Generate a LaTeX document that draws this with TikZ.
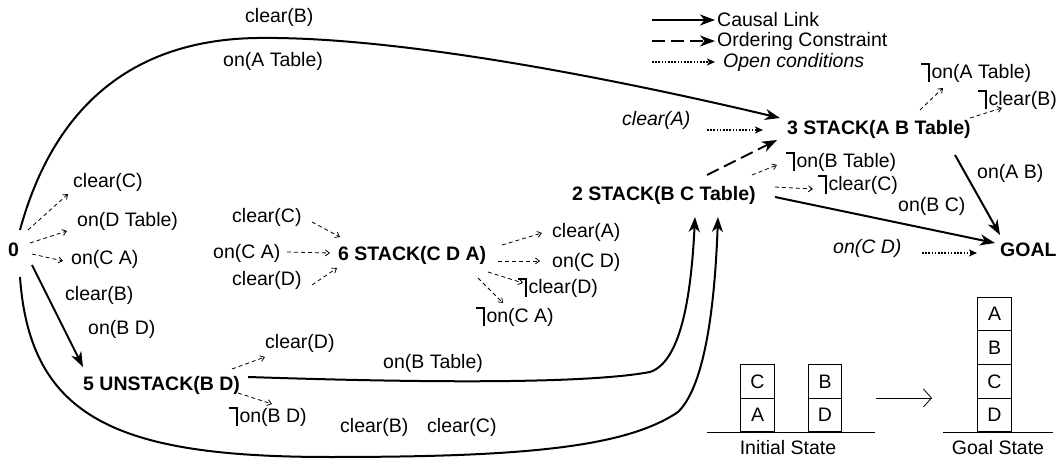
\documentclass[tikz,border=0pt]{standalone}
\usepackage{fontspec}
\setmainfont{Liberation Sans}
\usetikzlibrary{arrows.meta,calc}
\newcommand{\fsz}{\fontsize{19.5}{23}\selectfont}
\newcommand{\nsym}{\kern0.05em\rlap{\rule[0.72em]{0.42em}{0.06em}}\kern0.37em\rule[-0.15em]{0.06em}{0.93em}\kern0.1em}
\tikzset{
  lbl/.style={inner sep=0pt, anchor=west, font=\fsz},
  olbl/.style={inner sep=0pt, anchor=west, font=\fsz\itshape},
  act/.style={inner sep=0pt, anchor=west, font=\fsz\bfseries},
  causal/.style={line width=2pt, -{Stealth[length=15pt,width=11pt,inset=4.5pt]}},
  order/.style={line width=2pt, dash pattern=on 13pt off 6pt, -{Stealth[length=15pt,width=11pt,inset=4.5pt]}},
  thr/.style={line width=0.8pt, dash pattern=on 4pt off 3pt, -{Straight Barb[length=4pt,width=6pt]}},
  opencond/.style={line width=2pt, dash pattern=on 1.6pt off 1.6pt, -{Stealth[length=8pt,width=7pt,inset=2pt]}},
  blk/.style={draw, line width=0.8pt, minimum width=33.5pt, minimum height=33.5pt, inner sep=0pt, font=\fsz},
  ground/.style={line width=0.8pt},
}
\begin{document}
\begin{tikzpicture}[x=1pt,y=-1pt]
\useasboundingbox (0,0) rectangle (1060,462);

% action nodes
\node[act] (n0) at (8,250) {0};
\node[act] (n5) at (83,385) {5 UNSTACK(B D)};
\node[act] (n6) at (338,255) {6 STACK(C D A)};
\node[act] (n2) at (572,195) {2 STACK(B C Table)};
\node[act] (n3) at (787,129) {3 STACK(A B Table)};
\node[act] (g) at (1000,250) {GOAL};

% labels around 0
\node[lbl] (c1) at (73,182) {clear(C)};
\node[lbl] (c2) at (77,221) {on(D Table)};
\node[lbl] (c3) at (71,259) {on(C A)};
\node[lbl] (c4) at (65,295) {clear(B)};
\node[lbl] (c5) at (88,329) {on(B D)};
% labels around 5
\node[lbl] (c6) at (265,343) {clear(D)};
\node[lbl] (c7) at (228,417) {\nsym on(B D)};
\node[lbl] (c8) at (383,363) {on(B Table)};
\node[lbl] (c9) at (340,427) {clear(B)};
\node[lbl] (c10) at (427,427) {clear(C)};
% top labels
\node[lbl] (t1) at (245,17) {clear(B)};
\node[lbl] (t2) at (223,61) {on(A Table)};
% labels around 6
\node[lbl] (d1) at (232,217) {clear(C)};
\node[lbl] (d2) at (213,253) {on(C A)};
\node[lbl] (d3) at (232,280) {clear(D)};
\node[lbl] (e1) at (552,232) {clear(A)};
\node[lbl] (e2) at (552,262) {on(C D)};
\node[lbl] (e3) at (517,288) {\nsym clear(D)};
\node[lbl] (e4) at (475,317) {\nsym on(C A)};
% labels around 2, 3, GOAL
\node[olbl] (o1) at (622,120) {clear(A)};
\node[olbl] (o2) at (833,248) {on(C D)};
\node[lbl] (f1) at (785,162) {\nsym on(B Table)};
\node[lbl] (f2) at (817,185) {\nsym clear(C)};
\node[lbl] (f3) at (898,206) {on(B C)};
\node[lbl] (f4) at (977,173) {on(A B)};
\node[lbl] (h1) at (920,73) {\nsym on(A Table)};
\node[lbl] (h2) at (977,100) {\nsym clear(B)};

% legend
\node[lbl] (L1) at (717,20) {Causal Link};
\node[lbl] (L2) at (717,41) {Ordering Constraint};
\node[olbl] (L3) at (723,62) {Open conditions};
\coordinate (l1) at (652,20);
\coordinate (l2) at (652,41);
\coordinate (l3) at (652,62);
\draw[causal] (l1) -- ($(L1.west)+(-2,0)$);
\draw[order] (l2) -- ($(L2.west)+(-2,0)$);
\draw[opencond] (l3) -- ($(L3.west)+(-8,0)$);

% causal links
\draw[causal] ($(n0.west)+(12,-20)$) .. controls (50,120) and (120,40) .. (257,38)
   .. controls (400,36) and (620,80) .. ($(n3.west)+(-7,-11)$);
\draw[causal] ($(n0.west)+(12,27)$) .. controls (30,420) and (120,457) .. (330,457)
   .. controls (520,457) and (625,448) .. (678,412)
   .. controls (706,385) and (715,300) .. ($(n2.west)+(146,22)$);
\draw[causal] ($(n5.east)+(8,-8)$) .. controls (400,382) and (580,385) .. (650,372)
   .. controls (680,362) and (691,300) .. ($(n2.west)+(123,22)$);
\draw[causal] ($(n0.west)+(24,15)$) -- ($(n5.west)+(0,-18)$);
\draw[causal] ($(n2.west)+(203,2)$) -- ($(g.west)+(-5,-7)$);
\draw[causal] ($(n3.west)+(168,26)$) -- ($(g.west)+(0,-15)$);

% ordering constraint
\draw[order] ($(n2.west)+(135,-20)$) -- ($(n3.west)+(-10,11)$);

% open conditions
\draw[opencond] ($(o1.west)+(85,10)$) -- ($(n3.west)+(-24,1)$);
\draw[opencond] ($(o2.west)+(89,5)$) -- ($(g.west)+(-23,3)$);

% effects and preconditions (thin dashed)
\draw[thr] ($(n0.west)+(20,-20)$) -- ($(c1.west)+(-5,12)$);
\draw[thr] ($(n0.west)+(22,-7)$) -- ($(c2.west)+(-10,10)$);
\draw[thr] ($(n0.west)+(24,4)$) -- ($(c3.west)+(-8,2)$);
\draw[thr] ($(d1.west)+(80,5)$) -- ($(n6.west)+(2,-18)$);
\draw[thr] ($(d2.west)+(74,-1)$) -- ($(n6.west)+(-8,-2)$);
\draw[thr] ($(d3.west)+(80,5)$) -- ($(n6.west)+(-1,13)$);
\draw[thr] ($(n6.west)+(164,-10)$) -- ($(e1.west)+(-10,1)$);
\draw[thr] ($(n6.west)+(160,6)$) -- ($(e2.west)+(-12,-1)$);
\draw[thr] ($(n6.west)+(150,17)$) -- ($(e3.west)+(6,-5)$);
\draw[thr] ($(n6.west)+(140,23)$) -- ($(e4.west)+(28,-14)$);
\draw[thr] ($(n5.west)+(149,-16)$) -- ($(c6.west)+(0,14)$);
\draw[thr] ($(n5.west)+(155,8)$) -- ($(c7.west)+(44,-13)$);
\draw[thr] ($(n2.west)+(180,-20)$) -- ($(f1.west)+(-8,3)$);
\draw[thr] ($(n2.west)+(203,-8)$) -- ($(f2.west)+(-4,4)$);
\draw[thr] ($(n3.west)+(133,-19)$) -- ($(h1.west)+(23,15)$);
\draw[thr] ($(n3.west)+(183,-11)$) -- ($(h2.west)+(25,8)$);

% blocks world
\draw[ground] (707,432) -- (875,432);
\node[blk] (bC) at (757.5,381.5) {C};
\node[blk] (bA) at (757.5,415) {A};
\node[blk] (bB) at (825,381.5) {B};
\node[blk] (bD) at (825,415) {D};
\node[lbl, anchor=center] (is) at (788,448) {Initial State};
\draw[ground] (943,432) -- (1053,432);
\node[blk] (gA) at (994.5,314) {A};
\node[blk] (gB) at (994.5,347.5) {B};
\node[blk] (gC) at (994.5,381.5) {C};
\node[blk] (gD) at (994.5,415) {D};
\node[lbl, anchor=center] (gs) at (998,448) {Goal State};
\coordinate (ar1) at (876,398);
\coordinate (ar2) at (932,398);
\draw[line width=0.8pt, -{Straight Barb[length=8pt,width=18pt]}] (ar1) -- (ar2);
\end{tikzpicture}
\end{document}
